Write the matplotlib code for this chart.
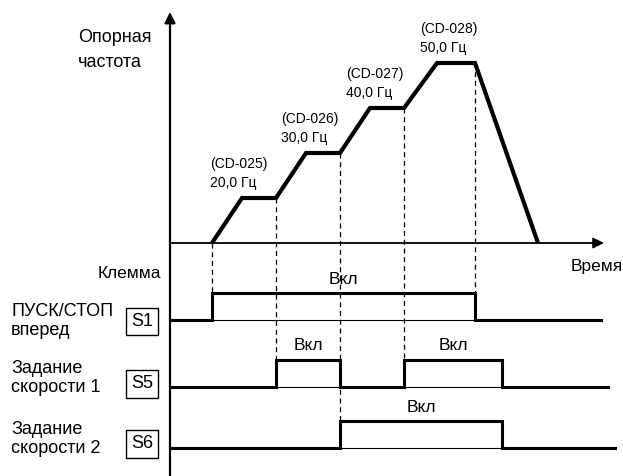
import matplotlib
matplotlib.use("Agg")
import matplotlib.pyplot as plt

plt.rcParams['font.family'] = ['Liberation Sans Narrow', 'Liberation Sans', 'DejaVu Sans']

# preset speeds (multi-step reference)
step_codes = ['CD-025', 'CD-026', 'CD-027', 'CD-028']
step_hz = [20.0, 30.0, 40.0, 50.0]

# reference frequency curve: time points and step level (0 = stopped)
curve_t = [42, 72, 106, 136, 170, 200, 234, 267, 305, 368]
curve_level = [0, 1, 1, 2, 2, 3, 3, 4, 4, 0]

# terminals: name, label, on-intervals, end of trace
terminals = ['S1', 'S5', 'S6']
term_labels = ['ПУСК/СТОП\nвперед', 'Задание\nскорости 1', 'Задание\nскорости 2']
term_on = [[(42, 305)], [(106, 170), (234, 332)], [(170, 332)]]
term_end = [431, 438, 445]
on_text = 'Вкл'

PX = 45.0  # pixels per level unit
row_base = [-77 / PX, -144 / PX, -205 / PX]
pulse_h = 27 / PX
label_dy = [-1, 9, 9]   # label centre above base, px
box_dy = [-1.5, 3, 4]   # box centre above base, px

fig = plt.figure(figsize=(6.23, 4.76), dpi=100)
ax = fig.add_axes([0, 0, 1, 1])
ax.set_xlim(-170, 453)
ax.set_ylim(-233 / PX, 243 / PX)
ax.axis('off')

# axes with arrows
ax.annotate('', xy=(0, 231 / PX), xytext=(0, -240 / PX),
            arrowprops=dict(arrowstyle='-|>', lw=1.6, color='black', mutation_scale=16,
                            shrinkA=0, shrinkB=0))
ax.annotate('', xy=(434, 0), xytext=(0, 0),
            arrowprops=dict(arrowstyle='-|>', lw=1.3, color='black', mutation_scale=16,
                            shrinkA=0, shrinkB=0))

# frequency curve
ax.plot(curve_t, curve_level, color='black', lw=3.0, solid_joinstyle='miter',
        solid_capstyle='butt', zorder=3)

# step labels
label_x = [40, 111, 176, 250]
for i, (code, hz) in enumerate(zip(step_codes, step_hz)):
    lvl = i + 1
    ax.text(label_x[i], lvl + 34 / PX, f'({code})', fontsize=10, va='center', ha='left')
    ax.text(label_x[i], lvl + 15 / PX, f'{hz:.1f}'.replace('.', ',') + ' Гц',
            fontsize=10, va='center', ha='left')

# terminal traces
for k, name in enumerate(terminals):
    base = row_base[k]
    top = base + pulse_h
    xs, ys = [0], [base]
    for a, b in term_on[k]:
        xs += [a, a, b, b]
        ys += [base, top, top, base]
        ax.plot([a, b], [base, base], color='black', lw=0.8, zorder=2)
    xs.append(term_end[k])
    ys.append(base)
    ax.plot(xs, ys, color='black', lw=2.2, solid_joinstyle='miter', zorder=3)
    for a, b in term_on[k]:
        ax.text((a + b) / 2, top + 14 / PX, on_text, fontsize=12.5, ha='center', va='center')
    ax.text(-159, base + label_dy[k] / PX, term_labels[k], fontsize=13, ha='left', va='center',
            linespacing=1.15)
    ax.text(-28, base + box_dy[k] / PX, name, fontsize=13, ha='center', va='center',
            bbox=dict(boxstyle='square,pad=0.3', fc='white', ec='black', lw=1.0))

# dashed timing guides from curve corners to terminal edges
edges = []
for k in range(len(terminals)):
    for a, b in term_on[k]:
        edges.append((a, row_base[k] + pulse_h))
        if k == 0:
            edges.append((b, row_base[k] + pulse_h))
for t, y_sig in edges:
    top_y = max(lv for tt, lv in zip(curve_t, curve_level) if tt == t) if t in curve_t else 0
    ax.plot([t, t], [top_y, y_sig], color='black', lw=0.9, ls=(0, (4, 3)), zorder=1)

# titles
ax.text(-92, 193 / PX, 'Опорная\nчастота', fontsize=13, ha='left', va='center', linespacing=1.55)
ax.text(-9, -30 / PX, 'Клемма', fontsize=12.5, ha='right', va='center')
ax.text(401, -24 / PX, 'Время', fontsize=12.5, ha='left', va='center')

fig.savefig('out.png', dpi=100)
